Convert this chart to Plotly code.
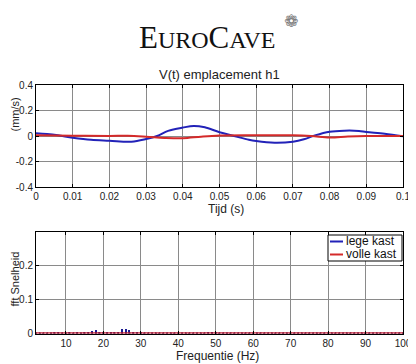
import plotly.graph_objects as go

# ---- data ----
t_lege = [0, 0.003, 0.006, 0.01, 0.015, 0.02, 0.026, 0.03, 0.033, 0.036, 0.04, 0.043, 0.046,
          0.05, 0.054, 0.058, 0.06, 0.065, 0.07, 0.073, 0.076, 0.08, 0.084, 0.088, 0.09, 0.095, 0.1]
v_lege = [0.021, 0.015, 0.005, -0.013, -0.03, -0.037, -0.045, -0.024, 0.0, 0.04, 0.066, 0.079, 0.068,
          0.03, 0.0, -0.03, -0.04, -0.053, -0.045, -0.026, 0.005, 0.034, 0.042, 0.04, 0.032, 0.018, -0.003]
t_volle = [0, 0.01, 0.02, 0.025, 0.03, 0.035, 0.04, 0.045, 0.05, 0.06, 0.07, 0.075, 0.08, 0.085, 0.09, 0.1]
v_volle = [0.005, 0.002, 0.0, 0.002, -0.005, -0.015, -0.018, -0.005, 0.004, 0.006, 0.006, 0.0,
           -0.012, -0.004, 0.0, 0.0]

freq = list(range(2, 101))
fft_lege = [0.001, 0.002, 0.001, 0.002, 0.002, 0.003, 0.004, 0.002, 0.002, 0.003,   # 2-11
            0.002, 0.003, 0.002, 0.003, 0.005, 0.009, 0.011, 0.006, 0.003, 0.004,   # 12-21
            0.003, 0.004, 0.006, 0.015, 0.016, 0.011, 0.006, 0.004, 0.003, 0.002,   # 22-31
            0.002, 0.002, 0.002, 0.001, 0.001, 0.002, 0.001, 0.001, 0.001, 0.001,   # 32-41
            0.001, 0.001, 0.001, 0.001, 0.001, 0.002, 0.004, 0.007, 0.004, 0.002,   # 42-51
            0.001, 0.001, 0.001, 0.001, 0.001, 0.001, 0.001, 0.001, 0.001, 0.001,   # 52-61
            0.001, 0.001, 0.001, 0.001, 0.001, 0.001, 0.001, 0.001, 0.001, 0.001,   # 62-71
            0.001, 0.001, 0.001, 0.001, 0.001, 0.001, 0.001, 0.001, 0.001, 0.001,   # 72-81
            0.001, 0.001, 0.001, 0.001, 0.001, 0.001, 0.001, 0.001, 0.001, 0.001,   # 82-91
            0.001, 0.001, 0.001, 0.001, 0.001, 0.001, 0.001, 0.001, 0.001]          # 92-100
fft_volle = [0.001] * 99

series_names = ["lege kast", "volle kast"]

top_xticks = [0, 0.01, 0.02, 0.03, 0.04, 0.05, 0.06, 0.07, 0.08, 0.09, 0.1]
top_xlabels = ["0", "0.01", "0.02", "0.03", "0.04", "0.05", "0.06", "0.07", "0.08", "0.09", "0.1"]
top_yticks = [-0.4, -0.2, 0, 0.2, 0.4]
top_ylabels = ["-0.4", "-0.2", "0", "0.2", "0.4"]
bot_xticks = [10, 20, 30, 40, 50, 60, 70, 80, 90, 100]
bot_yticks = [0, 0.1, 0.2]
bot_ylabels = ["0", "0.1", "0.2"]

BLUE = "#2222b8"
RED = "#d42a2a"
OFF = 8                      # page body margin
FW, FH = 416 - OFF, 364 - OFF

def px(x):
    return (x - OFF) / FW

def py(y):
    return 1 - (y - OFF) / FH

fig = go.Figure()
fig.add_trace(go.Scatter(x=t_lege, y=v_lege, mode="lines", name=series_names[0],
                         line=dict(color=BLUE, width=2, shape="spline"), xaxis="x", yaxis="y"))
fig.add_trace(go.Scatter(x=t_volle, y=v_volle, mode="lines", name=series_names[1],
                         line=dict(color=RED, width=2, shape="spline"), xaxis="x", yaxis="y"))
fig.add_trace(go.Bar(x=freq, y=fft_lege, width=0.4, marker=dict(color="#1a1a90", line=dict(width=0)),
                     xaxis="x2", yaxis="y2"))
fig.add_trace(go.Scatter(x=freq, y=fft_volle, mode="lines+markers",
                         line=dict(color="#c8283c", width=2),
                         marker=dict(color="#7a1030", size=2), xaxis="x2", yaxis="y2"))

axis_common = dict(showline=True, linecolor="black", linewidth=1, mirror="allticks",
                   ticks="inside", ticklen=3, tickcolor="black", showgrid=True,
                   gridcolor="#8a8a8a", gridwidth=1, zeroline=False,
                   tickfont=dict(family="Liberation Sans", size=10, color="#222"), automargin=False)

x0, x1 = px(36), px(403)
fig.update_layout(
    width=FW, height=FH, margin=dict(l=0, r=0, t=0, b=0),
    paper_bgcolor="white", plot_bgcolor="white", bargap=0, showlegend=False,
    xaxis=dict(axis_common, domain=[x0, x1], range=[0, 0.1], tickvals=top_xticks,
               ticktext=top_xlabels, anchor="y"),
    yaxis=dict(axis_common, domain=[py(187), py(85)], range=[-0.4, 0.4],
               tickvals=top_yticks, ticktext=top_ylabels, anchor="x"),
    xaxis2=dict(axis_common, domain=[x0, x1], range=[2, 100], tickvals=bot_xticks, anchor="y2"),
    yaxis2=dict(axis_common, domain=[py(333.5), py(231.5)], range=[0, 0.299],
                tickvals=bot_yticks, ticktext=bot_ylabels, anchor="x2"),
)

def ann(text, x, y, size=12, angle=0, family="Liberation Sans", color="#222", xanchor="center"):
    fig.add_annotation(text=text, x=px(x), y=py(y), xref="paper", yref="paper",
                       showarrow=False, textangle=angle, xanchor=xanchor, yanchor="middle",
                       font=dict(family=family, size=size, color=color))

# manual legend box
fig.add_shape(type="rect", xref="paper", yref="paper", x0=px(328), x1=px(402), y0=py(261), y1=py(235),
              line=dict(color="black", width=1), fillcolor="white", layer="above")
fig.add_shape(type="line", xref="paper", yref="paper", x0=px(330), x1=px(343), y0=py(241.5), y1=py(241.5),
              line=dict(color=BLUE, width=2), layer="above")
fig.add_shape(type="line", xref="paper", yref="paper", x0=px(330), x1=px(343), y0=py(254.5), y1=py(254.5),
              line=dict(color=RED, width=2), layer="above")
ann(series_names[0], 344, 241, size=12, xanchor="left", color="#111")
ann(series_names[1], 344, 254, size=12, xanchor="left", color="#111")

logo = ('<span style="font-size:31px">E</span>URO'
        '<span style="font-size:31px">C</span>AVE')
ann(logo, 207, 37, size=24, family="Liberation Serif", color="#111")
ann("❁", 291, 21, size=17, family="DejaVu Sans", color="#777")
ann("V(t) emplacement h1", 219, 75, size=13)
ann("Tijd (s)", 226, 209, size=12)
ann("Frequentie (Hz)", 218, 356, size=12)
ann("(mm/s)", 14.5, 115, size=11, angle=-90)
ann("fft Snelheid", 14.5, 279, size=11, angle=-90)

fig.write_html("out.html")
